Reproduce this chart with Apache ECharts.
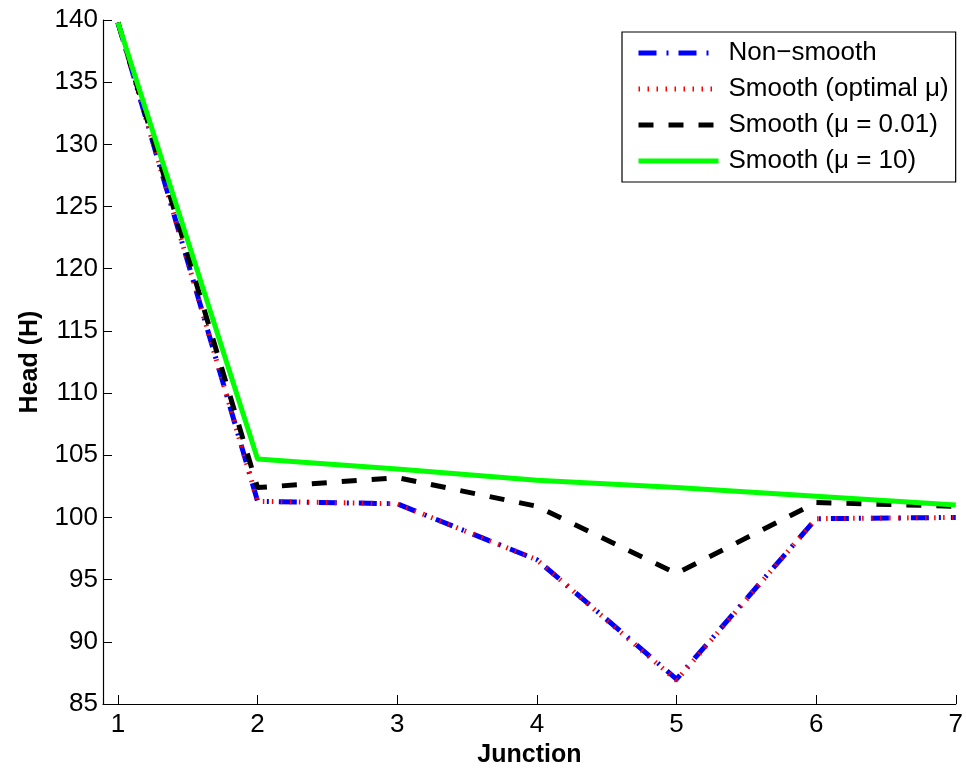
<!DOCTYPE html>
<html>
<head>
<meta charset="utf-8">
<script src="https://cdn.jsdelivr.net/npm/echarts@6/dist/echarts.min.js"></script>
<style>
  html, body { margin: 0; padding: 0; background: #fff; }
  #chart { width: 966px; height: 774px; }
</style>
</head>
<body>
<div id="chart"></div>
<script>
// Junction indices along the x axis
const junctions = [1, 2, 3, 4, 5, 6, 7];

// Head (H) at each junction, per formulation
const nonSmooth     = [139.8, 101.3, 101.1, 96.6, 87.0, 99.9, 100.0];
const smoothOptimal = [139.8, 101.3, 101.1, 96.6, 86.9, 99.9, 100.0];
const smoothMu001   = [139.8, 102.4, 103.2, 100.9, 95.5, 101.2, 100.9];
const smoothMu10    = [139.8, 104.7, 103.9, 103.0, 102.4, 101.7, 101.0];

const seriesNames = ['Non\u2212smooth', 'Smooth (optimal \u03bc)', 'Smooth (\u03bc = 0.01)', 'Smooth (\u03bc = 10)'];

const yTicks = [85, 90, 95, 100, 105, 110, 115, 120, 125, 130, 135, 140];

const FONT = '"Liberation Sans", Arial, Helvetica, sans-serif';

// Stroke styles shared by the plotted lines and their legend samples
const styles = [
  { color: '#0000ff', width: 5, type: [18, 10, 2, 10] },
  { color: '#ff0000', width: 5, type: [1.5, 7.5] },
  { color: '#000000', width: 5, type: [15, 15] },
  { color: '#00ff00', width: 5, type: 'solid' }
];

function pairs(vals) {
  return junctions.map((j, i) => [j, vals[i]]);
}

const chart = echarts.init(document.getElementById('chart'), null, { renderer: 'canvas' });

const seriesValues = [nonSmooth, smoothOptimal, smoothMu001, smoothMu10];

chart.setOption({
  animation: false,
  backgroundColor: '#ffffff',
  grid: { left: 103, right: 9, top: 20, bottom: 70, containLabel: false },
  legend: {
    orient: 'vertical',
    left: 622,
    top: 32,
    padding: [8, 7, 8, 14],
    itemGap: 10,
    itemWidth: 80,
    itemHeight: 26,
    borderColor: '#000',
    borderWidth: 1.2,
    backgroundColor: '#fff',
    itemStyle: { opacity: 0 },
    textStyle: { fontFamily: FONT, fontSize: 26, color: '#000', padding: [0, 0, 0, 5] },
    data: seriesNames.map((n, i) => ({
      name: n,
      itemStyle: { opacity: 0 },
      lineStyle: { color: styles[i].color, width: styles[i].width, type: styles[i].type, opacity: 1 }
    }))
  },
  xAxis: {
    type: 'value',
    min: 0.893,
    max: 7,
    name: 'Junction',
    nameLocation: 'middle',
    nameGap: 38,
    nameTextStyle: { fontFamily: FONT, fontSize: 25, fontWeight: 'bold', color: '#000' },
    axisLine: { show: true, onZero: false, lineStyle: { color: '#000', width: 1.2 } },
    axisTick: { show: true, inside: true, length: 9, customValues: junctions, lineStyle: { color: '#000', width: 1 } },
    axisLabel: { fontFamily: FONT, fontSize: 26, color: '#000', margin: 8, customValues: junctions },
    splitLine: { show: false }
  },
  yAxis: {
    type: 'value',
    min: 85,
    max: 140,
    interval: 5,
    name: 'Head (H)',
    nameLocation: 'middle',
    nameGap: 60,
    nameTextStyle: { fontFamily: FONT, fontSize: 25, fontWeight: 'bold', color: '#000' },
    axisLine: { show: true, onZero: false, lineStyle: { color: '#000', width: 1.2 } },
    axisTick: { show: true, inside: true, length: 9, lineStyle: { color: '#000', width: 1 } },
    axisLabel: { fontFamily: FONT, fontSize: 26, color: '#000', margin: 5, customValues: yTicks },
    splitLine: { show: false }
  },
  series: seriesNames.map((n, i) => ({
    name: n,
    type: 'line',
    data: pairs(seriesValues[i]),
    showSymbol: false,
    symbol: 'none',
    color: styles[i].color,
    lineStyle: { color: styles[i].color, width: styles[i].width, type: styles[i].type },
    z: 2 + i
  }))
});
</script>
</body>
</html>
